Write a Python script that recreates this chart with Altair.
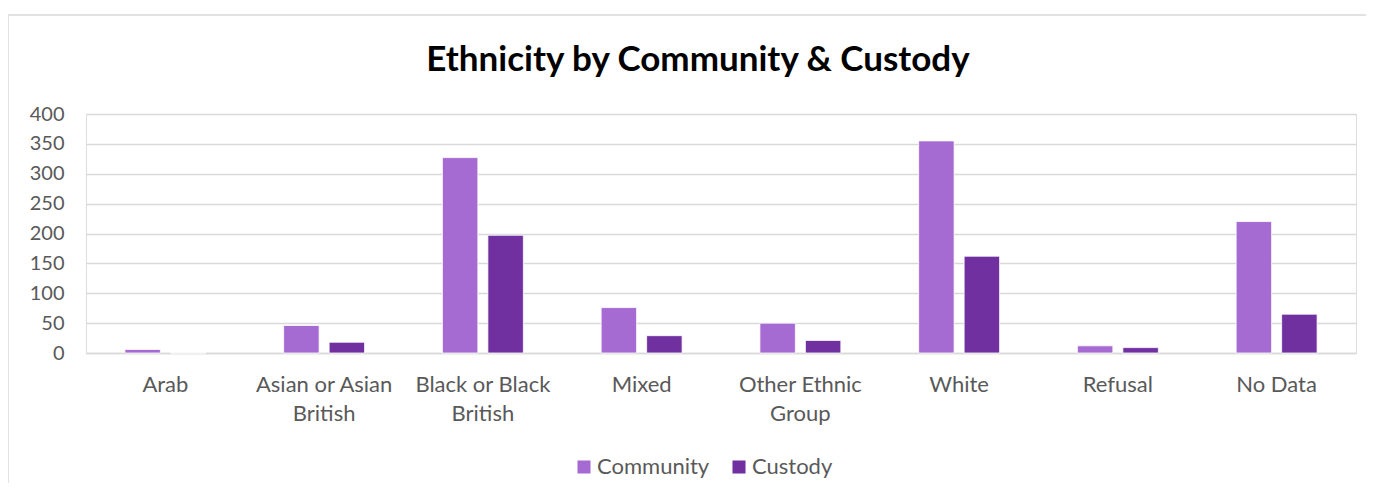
import altair as alt
import pandas as pd

categories = ["Arab", "Asian or Asian British", "Black or Black British", "Mixed",
              "Other Ethnic Group", "White", "Refusal", "No Data"]
# wrapped axis labels as drawn in the reference
label_lines = {
    "Arab": ["Arab"],
    "Asian or Asian British": ["Asian or Asian", "British"],
    "Black or Black British": ["Black or Black", "British"],
    "Mixed": ["Mixed"],
    "Other Ethnic Group": ["Other Ethnic", "Group"],
    "White": ["White"],
    "Refusal": ["Refusal"],
    "No Data": ["No Data"],
}
series = ["Community", "Custody"]
community = [6, 46, 327, 76, 50, 355, 12, 220]
custody = [0, 18, 197, 29, 21, 162, 9, 65]
colors = ["#A66BD3", "#7030A0"]
y_ticks = [0, 50, 100, 150, 200, 250, 300, 350, 400]

rows = []
for c, a, b in zip(categories, community, custody):
    rows.append({"Ethnicity": c, "Series": "Community", "Value": a})
    rows.append({"Ethnicity": c, "Series": "Custody", "Value": b})
df = pd.DataFrame(rows)

FONT = "Lato"

parts = []
for k, v in label_lines.items():
    arr = "[" + ",".join("'" + s + "'" for s in v) + "]"
    parts.append(f"datum.value == '{k}' ? {arr}")
label_expr = " : ".join(parts) + " : datum.label"

bars = alt.Chart(df).mark_bar(stroke="#ffffff", strokeWidth=0.8).encode(
    x=alt.X("Ethnicity:N", sort=categories,
            scale=alt.Scale(paddingInner=0.49, paddingOuter=0.245),
            axis=alt.Axis(title=None, labelAngle=0, labelFontSize=22, labelFont=FONT,
                          labelColor="#595959", labelPadding=21, labelLineHeight=29,
                          ticks=False, domainColor="#d9d9d9", domainWidth=1.5,
                          labelExpr=label_expr)),
    xOffset=alt.XOffset("Series:N", sort=series,
                        scale=alt.Scale(paddingInner=0.22)),
    y=alt.Y("Value:Q", scale=alt.Scale(domain=[0, 400]),
            axis=alt.Axis(title=None, values=y_ticks, labelFontSize=20, labelFont=FONT,
                          labelColor="#595959", labelPadding=22, ticks=False,
                          domain=False, gridColor="#d9d9d9", gridWidth=1.5)),
    color=alt.Color("Series:N", sort=series,
                    scale=alt.Scale(domain=series, range=colors),
                    legend=alt.Legend(title=None, orient="none", legendX=487, legendY=342,
                                      direction="horizontal", symbolType="square",
                                      symbolSize=170, symbolStrokeWidth=0,
                                      labelFontSize=22, labelFont=FONT,
                                      labelColor="#595959", columnPadding=18,
                                      labelOffset=2)),
)

border = alt.Chart(pd.DataFrame({"a": [0]})).mark_rect(
    fill=None, stroke="#d9d9d9", strokeWidth=1.5, clip=False
).encode(x=alt.value(-78), x2=alt.value(1300), y=alt.value(-99), y2=alt.value(420))

chart = alt.layer(border, bars).properties(
    width=1270, height=239,
    title=alt.TitleParams("Ethnicity by Community & Custody", font=FONT, fontSize=35,
                          fontWeight="bold", color="#000000", anchor="middle",
                          baseline="alphabetic", dx=-23, dy=92, offset=0),
    autosize=alt.AutoSizeParams(type="none"),
    padding={"left": 78, "top": 106, "right": 10, "bottom": 130},
).configure_view(stroke=None).configure(background="#ffffff")

chart.save("out.html", embed_options={"renderer": "svg", "actions": False})
